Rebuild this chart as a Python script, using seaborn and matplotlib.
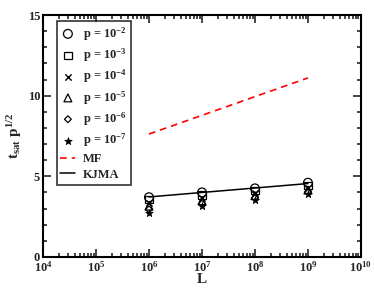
import numpy as np
import pandas as pd
import matplotlib
matplotlib.use("Agg")
import matplotlib.pyplot as plt
import seaborn as sns
from matplotlib.ticker import LogLocator, MultipleLocator, NullFormatter

# ---- data ----
L_values = [1e6, 1e7, 1e8, 1e9]
p_labels = ["p = 10$^{-2}$", "p = 10$^{-3}$", "p = 10$^{-4}$",
            "p = 10$^{-5}$", "p = 10$^{-6}$", "p = 10$^{-7}$"]
t_p2 = [3.70, 4.00, 4.25, 4.60]
t_p3 = [3.55, 3.85, 4.10, 4.42]
t_p4 = [3.35, 3.65, 3.95, 4.28]
t_p5 = [3.15, 3.48, 3.80, 4.15]
t_p6 = [2.95, 3.30, 3.65, 4.02]
t_p7 = [2.75, 3.15, 3.50, 3.90]
series = [t_p2, t_p3, t_p4, t_p5, t_p6, t_p7]
mf_L = [1e6, 1e9]
mf_vals = [7.62, 11.1]
kjma_L = [1e6, 1e9]
kjma_vals = [3.72, 4.55]

sns.set_style("ticks")
plt.rcParams['font.family'] = ['Liberation Serif', 'DejaVu Serif']
plt.rcParams['font.weight'] = 'bold'
plt.rcParams['mathtext.fontset'] = 'custom'
plt.rcParams['mathtext.rm'] = 'Liberation Serif:bold'
plt.rcParams['mathtext.it'] = 'Liberation Serif:bold'
plt.rcParams['mathtext.bf'] = 'Liberation Serif:bold'
plt.rcParams['mathtext.default'] = 'rm'

fig = plt.figure(figsize=(3.74, 2.89), dpi=100)
ax = fig.add_axes([0.115, 0.111, 0.850, 0.837])

markers = ['o', 's', 'x', '^', 'D', '*']
sizes = [40, 28, 20, 32, 12, 30]
for lab, vals, m, s in zip(p_labels, series, markers, sizes):
    df = pd.DataFrame({"L": L_values, "t": vals})
    if m == 'x':
        sns.scatterplot(data=df, x="L", y="t", marker=m, s=s, color='black',
                        linewidth=1.0, ax=ax, label=lab, zorder=3)
    elif m == '*':
        sns.scatterplot(data=df, x="L", y="t", marker=m, s=s, color='black',
                        edgecolor='black', linewidth=0.6, ax=ax, label=lab, zorder=3)
    else:
        sns.scatterplot(data=df, x="L", y="t", marker=m, s=s, facecolor='none',
                        edgecolor='black', linewidth=0.9, ax=ax, label=lab, zorder=3)

sns.lineplot(data=pd.DataFrame({"L": mf_L, "t": mf_vals}), x="L", y="t",
             color='red', linestyle=(0, (4, 3)), linewidth=1.2, ax=ax, label="MF")
sns.lineplot(data=pd.DataFrame({"L": kjma_L, "t": kjma_vals}), x="L", y="t",
             color='black', linewidth=1.1, ax=ax, label="KJMA")

ax.set_xscale('log')
ax.set_xlim(1e4, 1e10)
ax.set_ylim(0, 15)
ax.xaxis.set_major_locator(LogLocator(base=10, numticks=20))
ax.xaxis.set_minor_locator(LogLocator(base=10, subs=np.arange(2, 10), numticks=100))
ax.xaxis.set_minor_formatter(NullFormatter())
ax.yaxis.set_major_locator(MultipleLocator(5))
ax.yaxis.set_minor_locator(MultipleLocator(1))
ax.tick_params(which='both', direction='in', top=True, right=True,
               labelsize=9, width=1.2, pad=2)
ax.tick_params(which='major', length=6)
ax.tick_params(which='minor', length=3)
for sp in ax.spines.values():
    sp.set_linewidth(1.5)
    sp.set_color('black')

ax.set_xlabel("L", fontsize=11, fontweight='bold', labelpad=-1)
ax.set_ylabel("t$_{sat}$ p$^{1/2}$", fontsize=11, fontweight='bold', labelpad=3)

leg = ax.legend(loc='upper left', bbox_to_anchor=(0.035, 0.985), frameon=True,
                fancybox=False, edgecolor='black', fontsize=9,
                handlelength=1.2, handletextpad=0.6, labelspacing=0.3,
                borderpad=0.3, borderaxespad=0.2)
leg.get_frame().set_linewidth(1.2)

fig.savefig("out.png", dpi=100)
